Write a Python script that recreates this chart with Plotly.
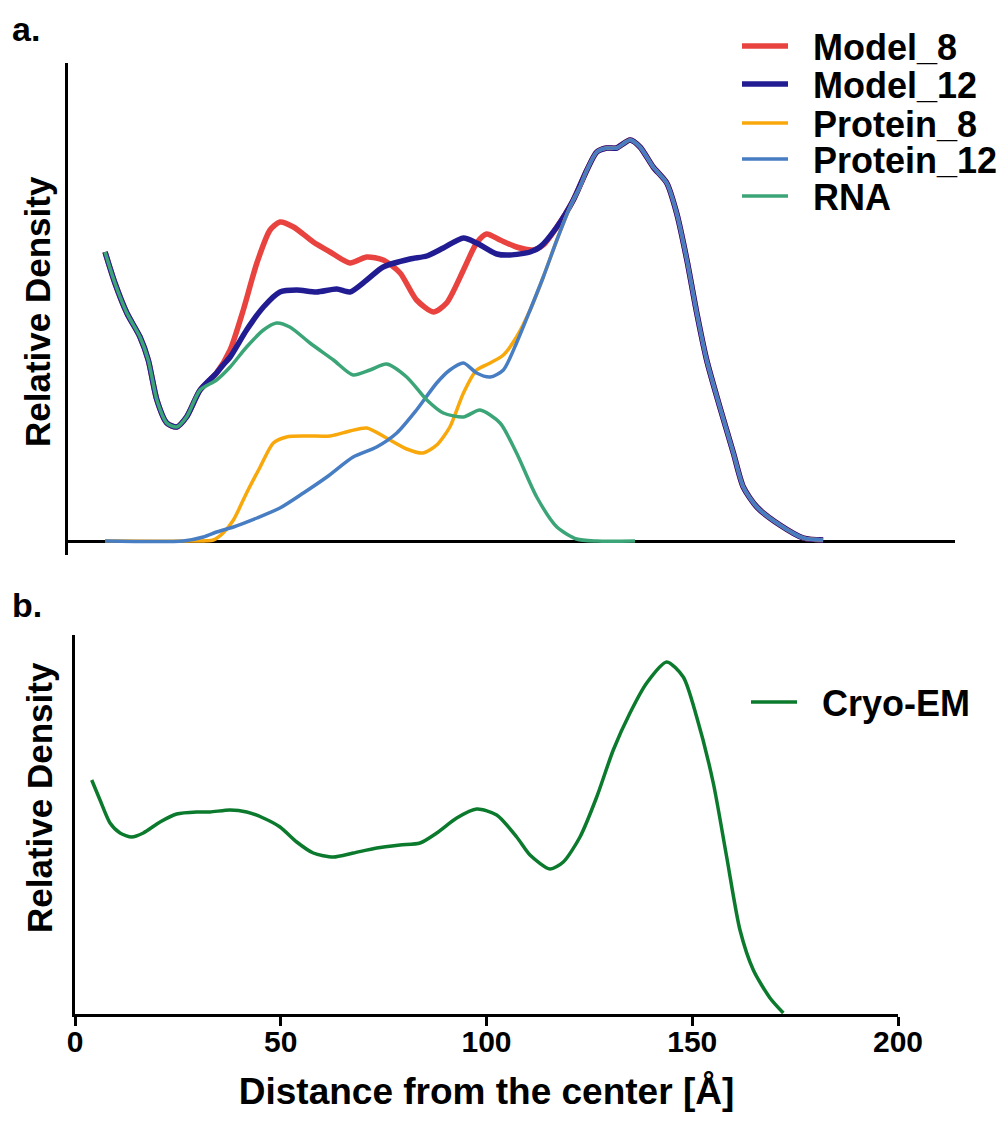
import plotly.graph_objects as go

# ---- panel a: radial density profiles (distance in A, arbitrary density units)
model8_x = [9.0, 11.4, 14.3, 17.5, 19.5, 21.6, 24.0, 26.4, 28.8, 32.1, 36.1,
            39.4, 42.6, 45.9, 49.1, 51.5, 54.8, 59.6, 63.7, 68.5, 72.6, 76.6,
            80.7, 84.7, 88.8, 92.0, 96.1, 99.3, 101.7, 105.0, 109.0, 113.1, 115.5,
            118.8, 122.8, 126.1, 128.5, 130.9, 133.3, 136.6, 139.0, 142.2, 145.5,
            147.9, 150.4, 152.8, 155.2, 158.4, 161.7, 164.1, 167.4, 173.0, 178.7, 183.5]
model8_y = [2.89, 2.58, 2.28, 2.04, 1.81, 1.41, 1.18, 1.14, 1.24, 1.51, 1.68,
            1.91, 2.31, 2.78, 3.11, 3.19, 3.14, 2.99, 2.89, 2.78, 2.84, 2.81,
            2.68, 2.41, 2.29, 2.38, 2.71, 2.98, 3.07, 3.01, 2.94, 2.91, 2.96,
            3.14, 3.41, 3.71, 3.89, 3.93, 3.93, 4.01, 3.94, 3.74, 3.58,
            3.28, 2.81, 2.28, 1.81, 1.34, 0.88, 0.54, 0.34, 0.16, 0.03, 0.01]

model12_x = [9.0, 11.4, 14.3, 17.5, 19.5, 21.6, 24.0, 26.4, 28.8, 32.1, 36.1,
             37.7, 39.4, 43.4, 47.5, 51.5, 55.6, 60.4, 65.3, 68.5, 72.6, 76.6,
             83.1, 87.2, 91.2, 96.1, 99.3, 104.2, 107.4, 112.3, 114.7,
             118.8, 122.8, 126.1, 128.5, 130.9, 133.3, 136.6, 139.0, 142.2, 145.5,
             147.9, 150.4, 152.8, 155.2, 158.4, 161.7, 164.1, 167.4, 173.0, 178.7, 183.5]
model12_y = [2.89, 2.58, 2.28, 2.04, 1.81, 1.41, 1.18, 1.14, 1.24, 1.51, 1.68,
             1.76, 1.84, 2.11, 2.34, 2.49, 2.51, 2.49, 2.52, 2.49, 2.61, 2.74,
             2.82, 2.85, 2.93, 3.03, 2.98, 2.87, 2.86, 2.89, 2.94,
             3.14, 3.41, 3.71, 3.89, 3.93, 3.93, 4.01, 3.94, 3.74, 3.58,
             3.28, 2.81, 2.28, 1.81, 1.34, 0.88, 0.54, 0.34, 0.16, 0.03, 0.01]

protein8_x = [9.0, 29.6, 35.3, 37.7, 40.2, 43.4, 46.7, 49.9, 53.1, 58.0, 63.7,
              68.5, 72.6, 77.4, 82.3, 86.3, 89.6, 92.8, 96.1, 99.3, 102.6, 105.8,
              109.0, 112.3, 115.5, 118.8, 122.0, 124.4,
              126.1, 128.5, 130.9, 133.3, 136.6, 139.0, 142.2, 145.5,
              147.9, 150.4, 152.8, 155.2, 158.4, 161.7, 164.1, 167.4, 173.0, 178.7, 183.5]
protein8_y = [0.0, 0.0, 0.01, 0.08, 0.21, 0.48, 0.74, 0.98, 1.04, 1.05, 1.05,
              1.10, 1.13, 1.03, 0.92, 0.88, 0.96, 1.14, 1.48, 1.71, 1.78, 1.86,
              2.04, 2.31, 2.64, 3.01, 3.34, 3.54,
              3.71, 3.89, 3.93, 3.93, 4.01, 3.94, 3.74, 3.58,
              3.28, 2.81, 2.28, 1.81, 1.34, 0.88, 0.54, 0.34, 0.16, 0.03, 0.01]

protein12_x = [9.0, 28.0, 32.9, 36.1, 40.2, 45.9, 51.5, 57.2, 62.9, 69.3, 75.0,
               79.9, 84.7, 89.6, 92.8, 96.1, 99.3, 102.6, 105.8, 109.0, 112.3,
               115.5, 118.8, 122.0, 124.4,
               126.1, 128.5, 130.9, 133.3, 136.6, 139.0, 142.2, 145.5,
               147.9, 150.4, 152.8, 155.2, 158.4, 161.7, 164.1, 167.4, 173.0, 178.7, 183.5]
protein12_y = [0.0, 0.0, 0.04, 0.09, 0.14, 0.23, 0.33, 0.48, 0.64, 0.84, 0.94,
               1.08, 1.31, 1.58, 1.71, 1.78, 1.68, 1.64, 1.71, 1.98, 2.31,
               2.64, 3.01, 3.34, 3.54,
               3.71, 3.89, 3.93, 3.93, 4.01, 3.94, 3.74, 3.58,
               3.28, 2.81, 2.28, 1.81, 1.34, 0.88, 0.54, 0.34, 0.16, 0.03, 0.01]

rna_x = [9.0, 11.4, 14.3, 17.5, 19.5, 21.6, 24.0, 26.4, 28.8, 32.1, 36.1,
         39.4, 43.4, 47.5, 50.7, 53.9, 58.8, 64.5, 69.3, 73.4, 77.4, 82.3,
         87.2, 91.2, 96.1, 100.1, 105.0, 109.0, 113.9, 118.8, 123.6, 128.5, 137.8]
rna_y = [2.89, 2.58, 2.28, 2.04, 1.81, 1.41, 1.18, 1.14, 1.24, 1.51, 1.61,
         1.74, 1.94, 2.11, 2.18, 2.14, 1.98, 1.81, 1.66, 1.71, 1.77, 1.64,
         1.41, 1.28, 1.24, 1.31, 1.18, 0.88, 0.44, 0.14, 0.02, 0.0, 0.0]

# ---- panel b: cryo-EM radial profile
cryo_x = [4.06, 6.08, 8.51, 10.94, 13.78, 16.60, 20.66, 24.71, 29.57, 32.81,
          37.67, 41.72, 45.76, 49.82, 53.88, 57.91, 62.77, 67.63, 73.32, 78.98,
          83.84, 87.90, 92.76, 97.62, 102.48, 107.34, 110.57, 115.43, 118.66,
          122.72, 126.78, 130.81, 134.87, 138.93, 143.79, 147.82, 151.08,
          155.11, 158.37, 161.60, 164.84, 168.89, 172.13]
cryo_y = [2.34, 2.14, 1.91, 1.81, 1.77, 1.81, 1.92, 2.00, 2.02, 2.02,
          2.04, 2.02, 1.96, 1.87, 1.72, 1.61, 1.57, 1.61, 1.66, 1.69,
          1.71, 1.81, 1.96, 2.05, 1.99, 1.77, 1.59, 1.45, 1.52,
          1.77, 2.17, 2.64, 3.01, 3.31, 3.52, 3.37, 2.97,
          2.31, 1.57, 0.84, 0.44, 0.16, 0.01]

x_ticks = [0, 50, 100, 150, 200]

W, H = 1003, 1133
BOLD = "Liberation Sans, Arial, Helvetica, sans-serif"
GAP = "\u00a0\u00a0"  # a bit of room between legend line and label

fig = go.Figure()

series = [
    ("Model_8", model8_x, model8_y, "#E8433F", 5.5, "legend"),
    ("Model_12", model12_x, model12_y, "#221C93", 5.5, "legend2"),
    ("Protein_8", protein8_x, protein8_y, "#F9A80C", 3.5, "legend3"),
    ("Protein_12", protein12_x, protein12_y, "#477DC2", 3.5, "legend4"),
    ("RNA", rna_x, rna_y, "#3BA577", 3.5, "legend5"),
]
for name, xs, ys, col, w, leg in series:
    fig.add_trace(go.Scatter(x=xs, y=ys, name=GAP + name, mode="lines",
                             line=dict(color=col, width=w, shape="spline", smoothing=0.7),
                             xaxis="x", yaxis="y", legend=leg))

fig.add_trace(go.Scatter(x=cryo_x, y=cryo_y, name=GAP + "Cryo-EM", mode="lines",
                         line=dict(color="#0B7A2D", width=3.5, shape="spline", smoothing=0.7),
                         xaxis="x2", yaxis="y2", legend="legend6"))


def py(px):
    return 1 - px / H


leg_common = dict(font=dict(family=BOLD, size=36, color="black", weight="bold"),
                  bgcolor="rgba(0,0,0,0)", xanchor="left", yanchor="middle",
                  xref="container", yref="container",
                  itemwidth=46, tracegroupgap=0)
legends = {}
for key, yc in zip(["legend", "legend2", "legend3", "legend4", "legend5"],
                   [46, 84, 123, 159, 196]):
    legends[key] = dict(leg_common, x=737 / W, y=py(yc))
legends["legend6"] = dict(leg_common, x=746 / W, y=py(702))

fig.update_layout(
    width=W, height=H,
    margin=dict(l=0, r=0, t=0, b=0, autoexpand=False),
    paper_bgcolor="white", plot_bgcolor="white",
    showlegend=True,
    xaxis=dict(domain=[68 / W, 955 / W], range=[0, 215.55], visible=False),
    yaxis=dict(domain=[py(555), py(63)], range=[-0.14, 4.78],
               showline=True, linecolor="black", linewidth=3,
               showgrid=False, showticklabels=False, ticks="",
               zeroline=True, zerolinecolor="black", zerolinewidth=3),
    xaxis2=dict(domain=[75 / W, 898 / W], range=[0, 200], anchor="y2",
                showline=True, linecolor="black", linewidth=3,
                showgrid=False, zeroline=False,
                tickvals=x_ticks, ticks="outside", ticklen=9, tickwidth=3,
                tickcolor="black", ticklabelstandoff=-10,
                tickfont=dict(family=BOLD, size=30, color="black", weight="bold"),
                title=dict(text="Distance from the center [Å]", standoff=22,
                           font=dict(family=BOLD, size=37, color="black", weight="bold"))),
    yaxis2=dict(domain=[py(1014), py(635)], range=[0, 3.79], anchor="x2",
                showline=True, linecolor="black", linewidth=3,
                showgrid=False, showticklabels=False, ticks="", zeroline=False),
    annotations=[
        dict(text="a.", x=10 / W, y=py(8), xref="paper", yref="paper",
             xanchor="left", yanchor="top", showarrow=False,
             font=dict(family=BOLD, size=34, color="black", weight="bold")),
        dict(text="b.", x=10 / W, y=py(584), xref="paper", yref="paper",
             xanchor="left", yanchor="top", showarrow=False,
             font=dict(family=BOLD, size=34, color="black", weight="bold")),
        dict(text="Relative Density", x=37 / W, y=py(312), xref="paper", yref="paper",
             xanchor="center", yanchor="middle", textangle=-90, showarrow=False,
             font=dict(family=BOLD, size=35, color="black", weight="bold")),
        dict(text="Relative Density", x=39 / W, y=py(798), xref="paper", yref="paper",
             xanchor="center", yanchor="middle", textangle=-90, showarrow=False,
             font=dict(family=BOLD, size=35, color="black", weight="bold")),
    ],
    **legends,
)

fig.write_html("out.html", config={"displayModeBar": False},
               post_script="document.body.style.margin='0px';")
